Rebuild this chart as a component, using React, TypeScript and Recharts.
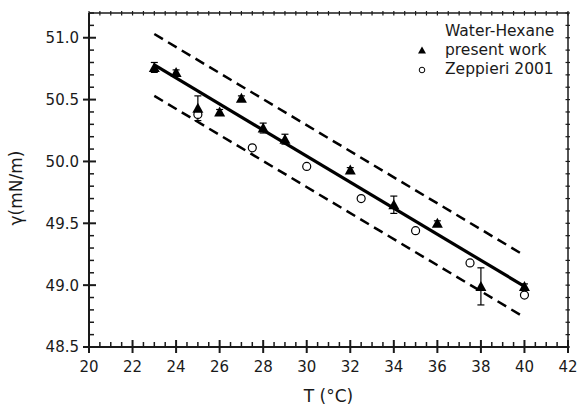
import React from 'react';
import { ScatterChart, Scatter, XAxis, YAxis, ErrorBar, ReferenceLine, Legend, Label } from 'recharts';

// present work (triangles)
const presentT = [23, 24, 25, 26, 27, 28, 29, 32, 34, 36, 38, 40];
const presentGamma = [50.76, 50.72, 50.43, 50.4, 50.51, 50.27, 50.18, 49.93, 49.65, 49.5, 48.99, 48.99];
const presentErr = [0.04, 0.02, 0.1, 0.02, 0.02, 0.04, 0.04, 0.02, 0.07, 0.02, 0.15, 0.02];

// Zeppieri 2001 (open circles)
const zeppT = [25, 27.5, 30, 32.5, 35, 37.5, 40];
const zeppGamma = [50.38, 50.11, 49.96, 49.7, 49.44, 49.18, 48.92];

// fitted line and the two dashed bands
const lineT = [23, 40];
const fitGamma = [50.78, 48.99];
const upperGamma = [51.03, 49.24];
const lowerGamma = [50.53, 48.74];

const xMajor = [20, 22, 24, 26, 28, 30, 32, 34, 36, 38, 40, 42];
const yMajor = [48.5, 49.0, 49.5, 50.0, 50.5, 51.0];

const X_MIN = 20;
const X_MAX = 42;
const Y_MIN = 48.5;
const Y_MAX = 51.2;

// minor ticks: every 0.5 on x, every 0.1 on y
const xTicks: number[] = [];
for (let v = X_MIN; v <= X_MAX; v += 0.5) xTicks.push(v);
const yTicks: number[] = [];
for (let i = 485; i <= 512; i++) yTicks.push(i / 10);

const presentData = presentT.map((t, i) => ({ t, g: presentGamma[i], err: presentErr[i] }));
const zeppData = zeppT.map((t, i) => ({ t, g: zeppGamma[i] }));
const fitData = lineT.map((t, i) => ({ t, g: fitGamma[i] }));
const upperData = lineT.map((t, i) => ({ t, g: upperGamma[i] }));
const lowerData = lineT.map((t, i) => ({ t, g: lowerGamma[i] }));

// tick mark anchors on the four edges of the frame
const bottomMarks = xTicks.map((t) => ({ t, g: Y_MIN }));
const topMarks = xTicks.map((t) => ({ t, g: Y_MAX }));
const leftMarks = yTicks.map((g) => ({ t: X_MIN, g }));
const rightMarks = yTicks.map((g) => ({ t: X_MAX, g }));

const W = 578;
const H = 408;
const PLOT_TOP = 13;
const PLOT_RIGHT = 568;
const PLOT_LEFT = 89;
const PLOT_BOTTOM = 347;
const FONT = '"DejaVu Sans", sans-serif';
const INK = '#1a1a1a';

const isXMajor = (v: number) => xMajor.includes(v);
const isYMajor = (v: number) => yMajor.some((m) => Math.abs(m - v) < 1e-6);

const renderXTick = (props: any) => {
  const value = props.payload.value;
  if (!isXMajor(value)) return <g />;
  return (
    <text x={Number(props.x)} y={Number(props.y) + 25} textAnchor="middle" fontFamily={FONT} fontSize={15} fill={INK}>
      {value}
    </text>
  );
};

const renderYTick = (props: any) => {
  const value = props.payload.value;
  if (!isYMajor(value)) return <g />;
  return (
    <text x={Number(props.x) - 10} y={Number(props.y)} dy="0.36em" textAnchor="end" fontFamily={FONT} fontSize={15} fill={INK}>
      {value.toFixed(1)}
    </text>
  );
};

// tick marks drawn as scatter shapes
const BottomMark = (props: any) => {
  const { cx, cy, payload } = props;
  const major = isXMajor(payload.t);
  return major ? (
    <path d={`M${cx},${cy - 7}V${cy + 6}`} stroke={INK} strokeWidth={2} fill="none" />
  ) : (
    <path d={`M${cx},${cy - 5}V${cy}`} stroke={INK} strokeWidth={1.5} fill="none" />
  );
};

const TopMark = (props: any) => {
  const { cx, cy } = props;
  return <path d={`M${cx},${cy - 2}V${cy + 2.5}`} stroke={INK} strokeWidth={1.2} fill="none" />;
};

const LeftMark = (props: any) => {
  const { cx, cy, payload } = props;
  const major = isYMajor(payload.g);
  return major ? (
    <path d={`M${cx - 6},${cy}H${cx + 7}`} stroke={INK} strokeWidth={2} fill="none" />
  ) : (
    <path d={`M${cx},${cy}H${cx + 5}`} stroke={INK} strokeWidth={1.5} fill="none" />
  );
};

const RightMark = (props: any) => {
  const { cx, cy } = props;
  return <path d={`M${cx - 2.5},${cy}H${cx + 2}`} stroke={INK} strokeWidth={1.2} fill="none" />;
};

const Triangle = (props: any) => {
  const { cx, cy } = props;
  return <path d={`M${cx},${cy - 5.5} L${cx + 5.5},${cy + 4.5} L${cx - 5.5},${cy + 4.5} Z`} fill="#000" />;
};

const OpenCircle = (props: any) => {
  const { cx, cy } = props;
  return <circle cx={cx} cy={cy} r={4} fill="#fff" stroke="#000" strokeWidth={1.2} />;
};

const NoShape = () => <g />;

const renderLegend = () => (
  <div style={{ fontFamily: FONT, fontSize: 15.5, lineHeight: '19px', color: INK }}>
    <div style={{ paddingLeft: 33 }}>Water-Hexane</div>
    <div style={{ display: 'flex', alignItems: 'center' }}>
      <svg width={20} height={19}>
        <path d="M10,5.5 L14,12.5 L6,12.5 Z" fill="#000" />
      </svg>
      <span style={{ marginLeft: 13 }}>present work</span>
    </div>
    <div style={{ display: 'flex', alignItems: 'center' }}>
      <svg width={20} height={19}>
        <circle cx={10} cy={10} r={2.8} fill="#fff" stroke="#000" strokeWidth={1} />
      </svg>
      <span style={{ marginLeft: 13 }}>Zeppieri 2001</span>
    </div>
  </div>
);

export default function App() {
  return (
    <div style={{ position: 'absolute', left: 0, top: 0, width: W, height: H, background: '#fff' }}>
      <ScatterChart width={W} height={H} margin={{ top: PLOT_TOP, right: W - PLOT_RIGHT, bottom: 0, left: 0 }}>
        <XAxis
          type="number"
          dataKey="t"
          domain={[X_MIN, X_MAX]}
          ticks={xTicks}
          interval={0}
          tickSize={0}
          tickMargin={0}
          height={H - PLOT_BOTTOM}
          tick={renderXTick}
          axisLine={{ stroke: INK, strokeWidth: 2 }}
          tickLine={false}
        >
          <Label value="T (°C)" position="insideBottom" offset={6} fontFamily={FONT} fontSize={17} fill={INK} />
        </XAxis>
        <YAxis
          type="number"
          dataKey="g"
          domain={[Y_MIN, Y_MAX]}
          ticks={yTicks}
          interval={0}
          tickSize={0}
          tickMargin={0}
          width={PLOT_LEFT}
          tick={renderYTick}
          axisLine={{ stroke: INK, strokeWidth: 2 }}
          tickLine={false}
        >
          <Label
            content={() => (
              <text x={16} y={188} transform="rotate(-90 16 188)" textAnchor="middle" dy="0.35em" fontFamily={FONT} fontSize={17} fill={INK}>
                γ(mN/m)
              </text>
            )}
          />
        </YAxis>
        <ReferenceLine y={Y_MAX} stroke={INK} strokeWidth={1.5} />
        <ReferenceLine x={X_MAX} stroke={INK} strokeWidth={1.5} />
        <Legend layout="vertical" align="center" verticalAlign="middle" wrapperStyle={{ top: 22, left: 412, width: 160 }} content={renderLegend} />

        <Scatter data={bottomMarks} shape={<BottomMark />} isAnimationActive={false} legendType="none" />
        <Scatter data={topMarks} shape={<TopMark />} isAnimationActive={false} legendType="none" />
        <Scatter data={leftMarks} shape={<LeftMark />} isAnimationActive={false} legendType="none" />
        <Scatter data={rightMarks} shape={<RightMark />} isAnimationActive={false} legendType="none" />

        <Scatter data={upperData} line={{ stroke: '#000', strokeWidth: 2.5, strokeDasharray: '10 6' }} shape={<NoShape />} isAnimationActive={false} legendType="none" />
        <Scatter data={lowerData} line={{ stroke: '#000', strokeWidth: 2.5, strokeDasharray: '10 6' }} shape={<NoShape />} isAnimationActive={false} legendType="none" />
        <Scatter data={fitData} line={{ stroke: '#000', strokeWidth: 3.2 }} shape={<NoShape />} isAnimationActive={false} legendType="none" />
        <Scatter data={zeppData} shape={<OpenCircle />} isAnimationActive={false} />
        <Scatter data={presentData} shape={<Triangle />} isAnimationActive={false}>
          <ErrorBar dataKey="err" direction="y" width={3.5} stroke="#000" strokeWidth={1.2} />
        </Scatter>
      </ScatterChart>
    </div>
  );
}
